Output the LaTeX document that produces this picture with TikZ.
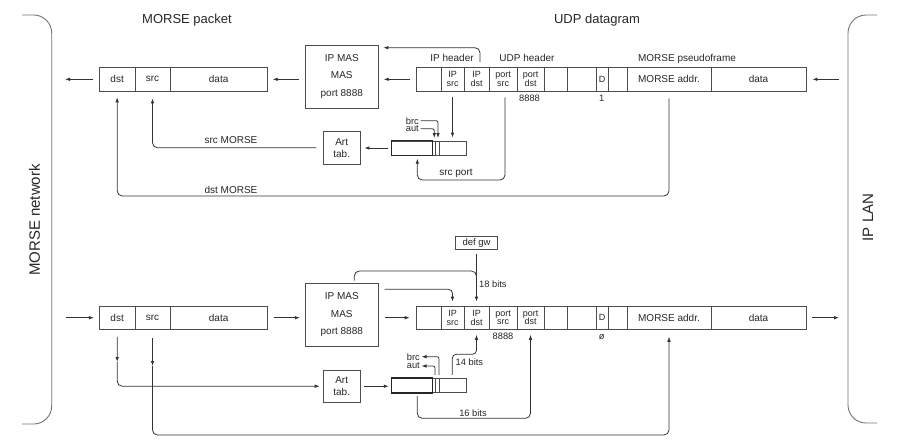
\documentclass[tikz,border=0pt]{standalone}
\usepackage{fontspec}
\setmainfont{Liberation Sans}
\usetikzlibrary{arrows.meta}
\newcommand{\myfs}[2]{\fontsize{#1}{#2}\selectfont}
\newcommand{\mkcell}[6]{\node[#1,minimum width={(#4)-(#3)}] (#2) at ({((#3)+(#4))/2},#5) {#6};}
\begin{document}
\begin{tikzpicture}[x=1pt,y=-1pt,
  every node/.style={text=black!85, inner sep=0pt},
  pcell/.style={draw=black!70, line width=0.8pt, minimum height=23.3pt, font=\myfs{10}{11}},
  dcell/.style={draw=black!70, line width=0.8pt, minimum height=23.3pt, align=center, font=\myfs{9}{8.8}},
  box/.style={draw=black!70, line width=0.8pt, align=center},
  bar/.style={draw=black!70, line width=0.8pt, minimum width=74.3pt, minimum height=14pt},
  lbl/.style={font=\myfs{10}{11}},
  sl/.style={font=\myfs{9.3}{10}},
  ttl/.style={font=\myfs{13}{14}},
  brk/.style={draw=black!55, line width=0.9pt, rounded corners=18pt},
  ln/.style={draw=black!80, line width=0.8pt},
  arr/.style={draw=black!80, line width=0.8pt, -{Latex[length=5pt,width=3.6pt]}},
]
\useasboundingbox (0,0) rectangle (900,440);

% side brackets
\draw[brk] (22,15) -- (51.7,15) -- (51.7,424) -- (22,424);
\draw[brk] (877,15) -- (848,15) -- (848,423) -- (877,423);
\node[rotate=90, font=\myfs{15}{16}] (mnet) at (34.5,220) {MORSE network};
\node[rotate=90, font=\myfs{15}{16}] (iplan) at (868,217.5) {IP LAN};

% titles
\node[ttl] (tpk) at (187,20) {MORSE packet};
\node[ttl] (tudp) at (597,20) {UDP datagram};

% ================= TOP =================
\mkcell{pcell}{tdst}{99.3}{135}{79.3}{dst}
\mkcell{pcell}{tsrc}{135}{170}{79.3}{src}
\mkcell{pcell}{tdata}{170}{267.3}{79.3}{data}

\node[box, minimum width=73pt, minimum height=63pt, font=\myfs{10}{17.5}] (tmas) at (341.8,76.5) {IP MAS\\MAS\\port 8888};

\mkcell{dcell}{tc0}{416}{441}{79.3}{}
\mkcell{dcell}{tipsrc}{441}{464}{79.3}{IP\\src}
\mkcell{dcell}{tipdst}{464}{489}{79.3}{IP\\dst}
\mkcell{dcell}{tpsrc}{489}{517}{79.3}{port\\src}
\mkcell{dcell}{tpdst}{517}{544}{79.3}{port\\dst}
\mkcell{dcell}{tc5}{544}{567}{79.3}{}
\mkcell{dcell}{tc6}{567}{596}{79.3}{}
\mkcell{dcell}{tD}{596}{608}{79.3}{D}
\mkcell{dcell}{tc8}{608}{627}{79.3}{}
\mkcell{pcell}{tmaddr}{627}{711}{79.3}{MORSE addr.}
\mkcell{pcell}{tmdata}{711}{806}{79.3}{data}

\node[lbl] (tiph) at (452,58) {IP header};
\node[lbl] (tudph) at (527,58) {UDP header};
\node[lbl] (tpsf) at (687,59) {MORSE pseudoframe};
\node[sl] (t8888) at (529.5,98) {8888};
\node[sl] (tone) at (601.7,98) {1};

\node[box, minimum width=36.7pt, minimum height=32.3pt, font=\myfs{10}{12}] (tart) at (341.7,147.8) {Art\\tab.};
\node[bar] (tbar) at (428.85,148) {};
\draw[line width=1.6pt, black!85] (tbar.south west) rectangle ([xshift=41pt]tbar.north west);
\draw[black!70, line width=0.6pt] ([xshift=44.3pt]tbar.north west) -- ([xshift=44.3pt]tbar.south west);
\draw[black!70, line width=0.6pt] ([xshift=48.3pt]tbar.north west) -- ([xshift=48.3pt]tbar.south west);

\node[sl, anchor=east] (tbrc) at (419,120.7) {brc};
\node[sl, anchor=east] (taut) at (419,128.8) {aut};

\coordinate (toutL) at (65,79.3);
\coordinate (tinR) at (839,79.3);
\coordinate (thfb) at (480,62);
\coordinate (thfbE) at (383.3,47.7);
\coordinate (tspc) at (417.3,180);
\coordinate (tdstc) at (117.2,196);

\draw[arr] ([xshift=-6pt]tdst.west) -- (toutL);
\draw[arr] ([xshift=-6pt]tmas.west |- tdata.east) -- ([xshift=5pt]tdata.east);
\draw[arr] ([xshift=-6pt]tc0.west) -- ([xshift=5pt]tmas.east |- tc0.west);
\draw[arr] (tinR) -- ([xshift=6pt]tmdata.east);
\draw[arr, rounded corners=5pt] (thfb) |- (thfbE);
\draw[arr] ([xshift=-3pt]tbar.west) -- ([xshift=4pt]tart.east |- tbar.west);
\draw[arr, rounded corners=5pt] ([xshift=-6.6pt]tart.west) -| ([yshift=-7pt]tsrc.south);
\draw[arr] ([yshift=-6pt]tipsrc.south) -- ([yshift=3pt]tipsrc.south |- tbar.north);
\draw[arr, rounded corners=2pt] ([xshift=1.5pt]tbrc.east) -| (438,138);
\draw[arr, rounded corners=2pt] ([xshift=1.5pt]taut.east) -| (434.3,138);
\draw[arr, rounded corners=5pt] ([xshift=2pt,yshift=-6pt]tpsrc.south) |- (tspc) -- ([yshift=-3.3pt]tspc |- tbar.south);
\draw[arr, rounded corners=5pt] ([yshift=-7pt]tmaddr.south) |- (tdstc) -- ([yshift=-6pt]tdst.south);

\node[lbl] (lsrcm) at (231,140) {src MORSE};
\node[lbl] (lsrcp) at (456,173) {src port};
\node[lbl] (ldstm) at (231,190) {dst MORSE};

% ================= BOTTOM =================
\mkcell{pcell}{bdst}{99.3}{135}{317.7}{dst}
\mkcell{pcell}{bsrc}{135}{170}{317.7}{src}
\mkcell{pcell}{bdata}{170}{267.3}{317.7}{data}

\node[box, minimum width=73pt, minimum height=62.7pt, font=\myfs{10}{17.5}] (bmas) at (341.8,314.7) {IP MAS\\MAS\\port 8888};

\mkcell{dcell}{bc0}{416}{441}{317.7}{}
\mkcell{dcell}{bipsrc}{441}{464}{317.7}{IP\\src}
\mkcell{dcell}{bipdst}{464}{489}{317.7}{IP\\dst}
\mkcell{dcell}{bpsrc}{489}{517}{317.7}{port\\src}
\mkcell{dcell}{bpdst}{517}{544}{317.7}{port\\dst}
\mkcell{dcell}{bc5}{544}{567}{317.7}{}
\mkcell{dcell}{bc6}{567}{596}{317.7}{}
\mkcell{dcell}{bD}{596}{608}{317.7}{D}
\mkcell{dcell}{bc8}{608}{627}{317.7}{}
\mkcell{pcell}{bmaddr}{627}{711}{317.7}{MORSE addr.}
\mkcell{pcell}{bmdata}{711}{806}{317.7}{data}

\node[sl] (b8888) at (503,336.7) {8888};
\node[sl] (bzero) at (601.7,336.7) {ø};

\node[box, minimum width=41.6pt, minimum height=13.3pt, font=\myfs{9.5}{10}] (defgw) at (476.5,242.7) {def gw};

\node[box, minimum width=36.7pt, minimum height=32.3pt, font=\myfs{10}{12}] (bart) at (341.7,386.2) {Art\\tab.};
\node[bar] (bbar) at (428.85,385.5) {};
\draw[line width=1.6pt, black!85] (bbar.south west) rectangle ([xshift=41pt]bbar.north west);
\draw[black!70, line width=0.6pt] ([xshift=44.3pt]bbar.north west) -- ([xshift=44.3pt]bbar.south west);
\draw[black!70, line width=0.6pt] ([xshift=48.3pt]bbar.north west) -- ([xshift=48.3pt]bbar.south west);

\node[sl, anchor=east] (bbrc) at (420,356.7) {brc};
\node[sl, anchor=east] (baut) at (420,366) {aut};

\coordinate (binL) at (66,317.7);
\coordinate (boutR) at (839,317.7);
\coordinate (bloopC) at (476.5,271);
\coordinate (bloopE) at (476.5,292);
\coordinate (b14c) at (476.5,354.3);
\coordinate (bbrcS) at (439,375);
\coordinate (bautS) at (435,375);
\coordinate (bdstM) at (117.2,362);
\coordinate (bsrcM) at (152.5,366);
\coordinate (bsrcC) at (669,435);
\coordinate (b16c) at (530.5,418.3);

\draw[arr] (binL) -- ([xshift=-5pt]bdst.west);
\draw[arr] ([xshift=6pt]bdata.east) -- ([xshift=-5pt]bmas.west |- bdata.east);
\draw[arr] ([xshift=6pt]bmas.east |- bc0.west) -- ([xshift=-6pt]bc0.west);
\draw[arr] ([xshift=6pt]bmdata.east) -- (boutR);
\draw[arr, rounded corners=4pt] ([xshift=6pt,yshift=25.4pt]bmas.east) -| ([yshift=4pt]bipsrc.north);
\draw[ln, rounded corners=5pt] ([xshift=12.5pt,yshift=2.3pt]bmas.north) |- (bloopC) -- (bloopE);
\draw[arr] ([yshift=-4pt]defgw.south) -- ([yshift=4pt]bipdst.north);
\draw[arr, rounded corners=4pt] ([xshift=23.45pt,yshift=3.3pt]bbar.north) |- (b14c) -- ([yshift=-5pt]bipdst.south);
\draw[arr, rounded corners=2pt] (bbrcS) |- ([xshift=1.5pt]bbrc.east);
\draw[arr, rounded corners=2pt] (bautS) |- ([xshift=1.5pt]baut.east);
\draw[arr] ([yshift=-7pt]bdst.south) -- (bdstM);
\draw[arr, rounded corners=5pt] (bdstM) |- ([xshift=-3.3pt]bart.west);
\draw[arr] ([yshift=-8pt]bsrc.south) -- (bsrcM);
\draw[arr, rounded corners=5pt] (bsrcM) |- (bsrcC) -- ([yshift=-7pt]bmaddr.south);
\draw[arr] ([xshift=4pt]bart.east) -- ([xshift=-2.5pt]bbar.west |- bart.east);
\draw[arr, rounded corners=5pt] ([xshift=-11.55pt,yshift=-3.3pt]bbar.south) |- (b16c) -- ([yshift=-5pt]bpdst.south);

\node[sl, anchor=west] (l18) at (479,284.3) {18 bits};
\node[sl, anchor=west] (l14) at (455.5,361.7) {14 bits};
\node[sl] (l16) at (473,412.7) {16 bits};
\end{tikzpicture}
\end{document}
